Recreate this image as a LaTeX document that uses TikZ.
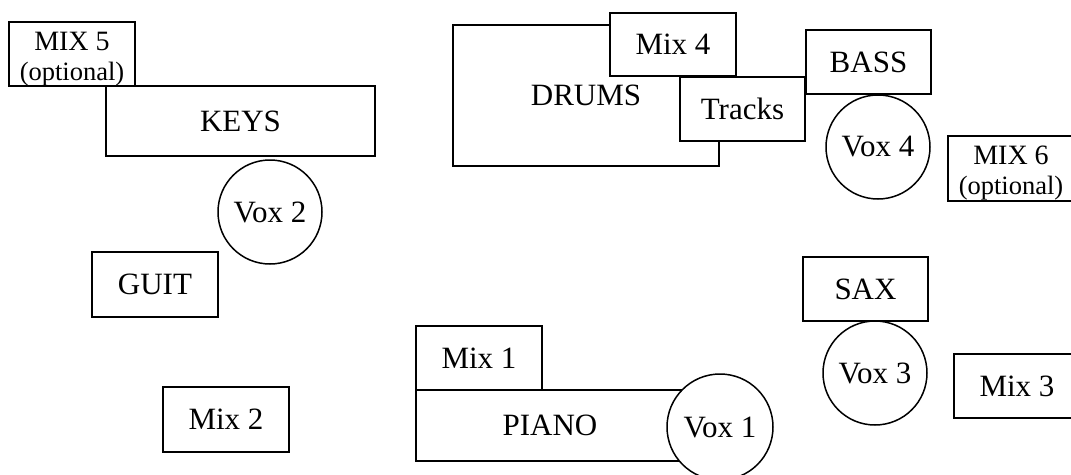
\documentclass[tikz,border=0pt]{standalone}
\usepackage{fontspec}
\setmainfont{Liberation Serif}
\usepackage{tikz}

\begin{document}
\begin{tikzpicture}[x=1pt, y=-1pt, line width=1.5pt, inner sep=0pt, draw=black]
				\tikzset{every node/.style={font=\fontsize{31}{34}\selectfont}}
				\tikzstyle{box}=[draw, rectangle, fill=white, minimum width=126pt, minimum height=64pt]
				\tikzstyle{vox}=[draw, circle, fill=white, minimum size=104pt]
				\tikzstyle{optbox}=[box, align=center, text height=54pt, text depth=2pt, font=\fontsize{28}{28}\selectfont]
				\newcommand{\opt}{\\[2pt]{\fontsize{26.5}{28}\selectfont (optional)}}

				\useasboundingbox (0,0) rectangle (1071,474);

				%INSTRUMENTOS
				\node[box, minimum width=266pt, minimum height=141pt]	(drums)	at (586,95.5)	{DRUMS};
				\node[box, minimum width=269pt, minimum height=70pt]	(keys)	at (240.5,121)	{KEYS};
				\node[box, minimum width=268pt, minimum height=71pt]	(piano)	at (550,425.5)	{PIANO};
				\node[box, minimum width=125pt]				(bass)	at (868.5,62)	{BASS};
				\node[box, minimum height=65pt]				(guit)	at (155,284.5)	{GUIT};
				\node[box, minimum width=125pt]				(sax)	at (865.5,289)	{SAX};
				\node[box, minimum width=125pt]				(tracks)	at (742.5,109)	{Tracks};

				%MEZCLAS
				\node[box, minimum height=63pt]				(mix4)	at (673,44.5)	{Mix 4};
				\node[box]						(mix1)	at (479,358)	{Mix 1};
				\node[box, minimum height=65pt]				(mix2)	at (226,419.5)	{Mix 2};
				\node[box]						(mix3)	at (1017,386)	{Mix 3};
				\node[optbox]						(mix5)	at (72,54)	{MIX 5\opt};
				\node[optbox, minimum height=65pt]			(mix6)	at (1011,168.5)	{MIX 6\opt};

				%VOCES
				\node[vox, minimum size=106pt]				(vox1)	at (720,427)	{Vox 1};
				\node[vox]						(vox2)	at (270,212)	{Vox 2};
				\node[vox]						(vox3)	at (875,373)	{Vox 3};
				\node[vox]						(vox4)	at (878,147)	{Vox 4};
			\end{tikzpicture}
\end{document}
